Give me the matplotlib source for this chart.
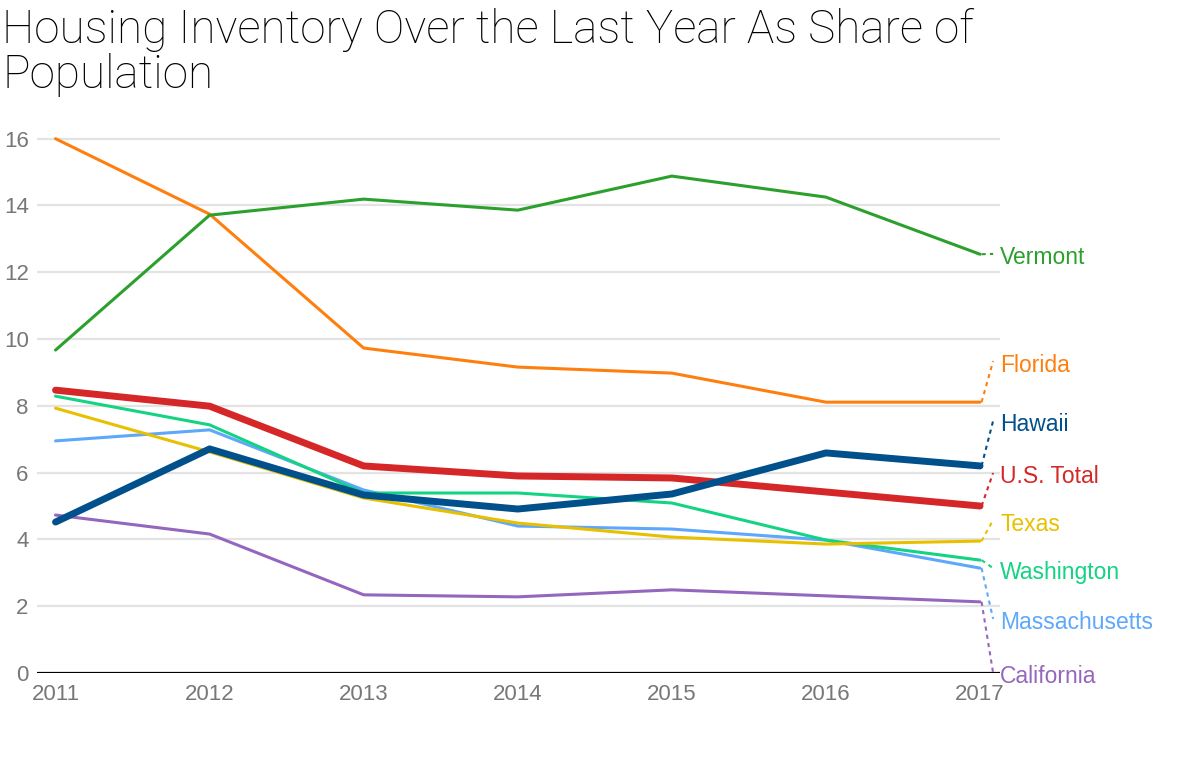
import matplotlib
matplotlib.use("Agg")
import matplotlib.pyplot as plt

plt.rcParams["font.family"] = ["Liberation Sans", "DejaVu Sans"]

years = [2011, 2012, 2013, 2014, 2015, 2016, 2017]

vermont = [9.67, 13.71, 14.19, 13.86, 14.88, 14.25, 12.54]
florida = [16.0, 13.74, 9.73, 9.16, 8.98, 8.11, 8.11]
hawaii = [4.52, 6.71, 5.33, 4.91, 5.36, 6.59, 6.20]
us_total = [8.47, 7.99, 6.20, 5.90, 5.84, 5.42, 5.00]
texas = [7.93, 6.62, 5.24, 4.49, 4.07, 3.86, 3.95]
washington = [8.29, 7.43, 5.39, 5.39, 5.09, 3.98, 3.38]
massachusetts = [6.95, 7.28, 5.48, 4.40, 4.31, 3.98, 3.14]
california = [4.73, 4.16, 2.34, 2.28, 2.49, 2.31, 2.13]

# name, values, colour, width, where the label sits (data y)
series = [
    ("California", california, "#9467bd", 2.2, -0.12),
    ("Massachusetts", massachusetts, "#5ea8fc", 2.2, 1.50),
    ("Washington", washington, "#14d383", 2.2, 3.02),
    ("Texas", texas, "#e8c000", 2.2, 4.46),
    ("Florida", florida, "#ff7f0e", 2.2, 9.22),
    ("Vermont", vermont, "#2ca02c", 2.2, 12.43),
    ("U.S. Total", us_total, "#d62728", 5.0, 5.87),
    ("Hawaii", hawaii, "#00508c", 5.0, 7.43),
]

fig = plt.figure(figsize=(11.8, 7.8), dpi=100)
ax = fig.add_axes([0.0314, 0.1372, 0.8161, 0.7064])

for y in range(2, 17, 2):
    ax.axhline(y, color="#e3e3e3", lw=1.6, zorder=0)
ax.axhline(0, color="black", lw=1.6, zorder=1)

for name, vals, color, lw, label_y in series:
    ax.plot(years, vals, color=color, lw=lw, solid_capstyle="round",
            solid_joinstyle="round", zorder=3)
    # dotted leader from the last point to the label
    ax.plot([years[-1] + 0.01, 2017.085], [vals[-1], label_y + 0.12],
            color=color, lw=1.5, ls=(0, (2, 2)), clip_on=False, zorder=2)
    ax.text(2017.13, label_y, name, color=color, fontsize=16.5,
            va="center", ha="left", clip_on=False)

ax.set_xlim(2010.88, 2017.13)
ax.set_ylim(0, 16.5)
ax.set_xticks(years)
ax.set_yticks(range(0, 17, 2))
ax.tick_params(axis="both", length=0, labelsize=16, labelcolor="#777777")
ax.tick_params(axis="y", pad=6)
ax.tick_params(axis="x", pad=8)
for s in ax.spines.values():
    s.set_visible(False)

fig.text(0.002, 0.99, "Housing Inventory Over the Last Year As Share of\nPopulation",
         fontsize=33, va="top", ha="left", color="black", linespacing=1.02,
         family=["Roboto", "DejaVu Sans"], fontweight="light")

fig.savefig("out.png", dpi=100)
